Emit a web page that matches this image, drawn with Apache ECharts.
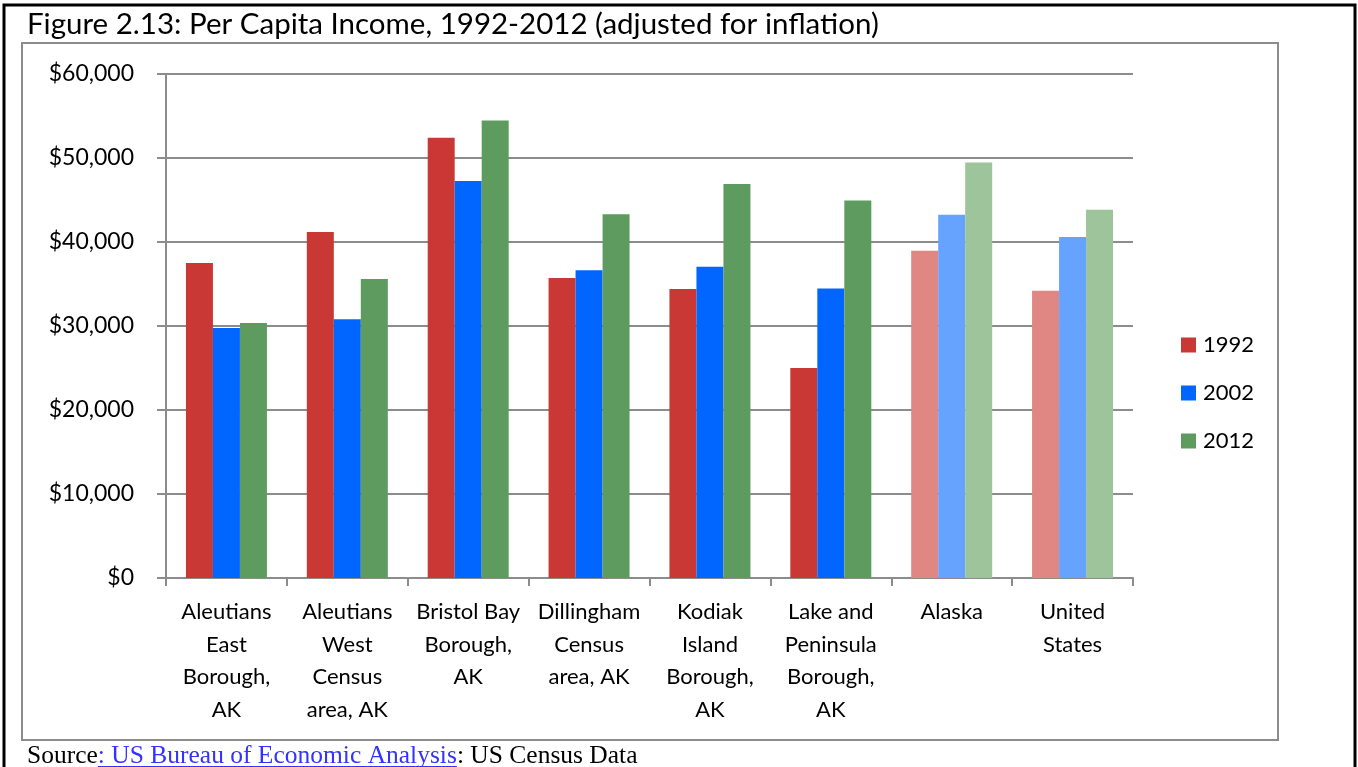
<!DOCTYPE html>
<html lang="en">
<head>
	<meta charset="utf-8">
	<title>Per Capita Income, 1992-2012</title>
	<script src="https://cdn.jsdelivr.net/npm/echarts@6/dist/echarts.min.js"></script>
	<style>
		html, body { margin: 0; padding: 0; background: #fff; }
		#chart { width: 1358px; height: 767px; }
	</style>
</head>
<body>
<div id="chart"></div>
<script>
// categories as labelled on the x axis (line breaks as in the figure)
var categories = [
	'Aleutians\nEast\nBorough,\nAK',
	'Aleutians\nWest\nCensus\narea, AK',
	'Bristol Bay\nBorough,\nAK',
	'Dillingham\nCensus\narea, AK',
	'Kodiak\nIsland\nBorough,\nAK',
	'Lake and\nPeninsula\nBorough,\nAK',
	'Alaska',
	'United\nStates'
];
// the last two are the comparison areas, drawn in lighter shades
var comparisonCount = 2;

var years = ['1992', '2002', '2012'];
var income1992 = [37500, 41200, 52400, 35700, 34400, 25000, 38950, 34200];
var income2002 = [29750, 30800, 47250, 36650, 37050, 34450, 43250, 40600];
var income2012 = [30350, 35600, 54450, 43300, 46900, 44950, 49450, 43850];

var yTicks = [0, 10000, 20000, 30000, 40000, 50000, 60000];

var baseColors = ['#C93834', '#0066FF', '#5E9B5E'];
var lightColors = ['#E08683', '#66A3FF', '#9EC49C'];

var labelFont = 'Lato';
var measureCtx = document.createElement('canvas').getContext('2d');
function textWidth(txt, font) {
	measureCtx.font = font;
	return measureCtx.measureText(txt).width;
}

function makeSeries(name, values, k) {
	return {
		name: name,
		type: 'bar',
		barWidth: 27,
		barGap: '0%',
		itemStyle: { color: baseColors[k] },
		data: values.map(function (v, i) {
			if (i >= categories.length - comparisonCount) {
				return { value: v, itemStyle: { color: lightColors[k] } };
			}
			return v;
		})
	};
}

var srcFont = '25.5px "Liberation Serif"';
var srcX = 27, srcY = 756;
var srcA = 'Source', srcB = ': US Bureau of Economic Analysis', srcC = ': US Census Data';
var wA = textWidth(srcA, srcFont), wB = textWidth(srcB, srcFont);

var chart = echarts.init(document.getElementById('chart'));
chart.setOption({
	animation: false,
	backgroundColor: '#fff',
	grid: { left: 166, right: 225, top: 74, bottom: 189 },
	legend: {
		orient: 'vertical',
		left: 1176,
		top: 329,
		itemWidth: 15,
		itemHeight: 15,
		itemGap: 26,
		icon: 'rect',
		data: years,
		textStyle: { fontFamily: labelFont, fontSize: 22, color: '#000', padding: [0, 0, 0, 2] }
	},
	xAxis: {
		type: 'category',
		data: categories,
		axisLine: { lineStyle: { color: '#8c8c8c', width: 2 } },
		axisTick: { show: true, length: 8, lineStyle: { color: '#8c8c8c', width: 2 } },
		axisLabel: {
			interval: 0,
			margin: 18,
			fontFamily: labelFont,
			fontSize: 22,
			lineHeight: 32.5,
			color: '#000',
			align: 'center'
		}
	},
	yAxis: {
		type: 'value',
		min: yTicks[0],
		max: yTicks[yTicks.length - 1],
		interval: yTicks[1] - yTicks[0],
		axisLine: { show: true, lineStyle: { color: '#8c8c8c', width: 2 } },
		axisTick: { show: true, length: 9, lineStyle: { color: '#8c8c8c', width: 2 } },
		splitLine: { lineStyle: { color: '#8c8c8c', width: 2 } },
		axisLabel: {
			margin: 32,
			fontFamily: labelFont,
			fontSize: 23,
			color: '#000',
			formatter: function (v) { return '$' + v.toLocaleString('en-US'); }
		}
	},
	series: [
		makeSeries(years[0], income1992, 0),
		makeSeries(years[1], income2002, 1),
		makeSeries(years[2], income2012, 2)
	],
	graphic: [
		{
			type: 'rect', silent: true, z: -1,
			shape: { x: 4, y: 5, width: 1351, height: 800 },
			style: { fill: null, stroke: '#000', lineWidth: 3 }
		},
		{
			type: 'rect', silent: true, z: -1,
			shape: { x: 22, y: 43, width: 1256, height: 697 },
			style: { fill: null, stroke: '#8c8c8c', lineWidth: 2 }
		},
		{
			type: 'text', left: 27, top: 9,
			style: {
				text: 'Figure 2.13: Per Capita Income, 1992-2012 (adjusted for inflation)',
				font: '29.5px Lato', fill: '#000'
			}
		},
		{
			type: 'text', x: srcX, y: srcY,
			style: { text: srcA, font: srcFont, fill: '#000', verticalAlign: 'middle' }
		},
		{
			type: 'text', x: srcX + wA, y: srcY,
			style: { text: srcB, font: srcFont, fill: '#3333FF', verticalAlign: 'middle' }
		},
		{
			type: 'line', silent: true,
			shape: { x1: srcX + wA, y1: srcY + 10.5, x2: srcX + wA + wB, y2: srcY + 10.5 },
			style: { stroke: '#3333FF', lineWidth: 1 }
		},
		{
			type: 'text', x: srcX + wA + wB, y: srcY,
			style: { text: srcC, font: srcFont, fill: '#000', verticalAlign: 'middle' }
		}
	]
});
</script>
</body>
</html>
